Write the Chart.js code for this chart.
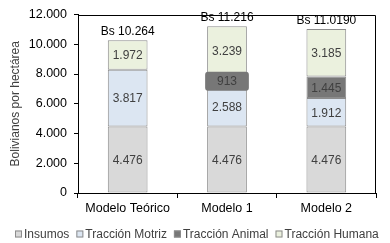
<!DOCTYPE html>
<html>
<head>
<meta charset="utf-8">
<script src="https://cdn.jsdelivr.net/npm/chart.js@4/dist/chart.umd.min.js"></script>
<style>
html,body{margin:0;padding:0;background:#fff;}
#wrap{width:390px;height:243px;position:relative;}
</style>
</head>
<body>
<div id="wrap"><canvas id="c" width="390" height="243"></canvas></div>
<script>
const categories = ["Modelo Teórico", "Modelo 1", "Modelo 2"];
const insumos = [4476, 4476, 4476];
const traccionMotriz = [3817, 2588, 1912];
const traccionAnimal = [0, 913, 1445];
const traccionHumana = [1972, 3239, 3185];
const totalLabels = ["Bs 10.264", "Bs 11.216", "Bs 11.0190"];
const yTicks = [0, 2000, 4000, 6000, 8000, 10000, 12000];

const FONT = "'Liberation Sans', Arial, sans-serif";
const TXT = '#404040';
const EDGE = '#8c8c8c';

function fmt(v){
  return String(v).replace(/\B(?=(\d{3})+(?!\d))/g, '.');
}

const labelPlugin = {
  id: 'labels',
  afterDatasetsDraw(chart){
    const ctx = chart.ctx;
    ctx.save();
    ctx.font = '12px ' + FONT;
    ctx.textAlign = 'center';
    ctx.textBaseline = 'middle';
    chart.data.datasets.forEach((ds, di) => {
      const meta = chart.getDatasetMeta(di);
      meta.data.forEach((el, i) => {
        const v = ds.data[i];
        if (!v) return;
        const cy = (el.y + el.base) / 2;
        const h = Math.abs(el.base - el.y);
        if (h < 18) {
          const w = el.width + 4, bh = 19;
          ctx.fillStyle = ds.backgroundColor;
          ctx.beginPath();
          if (ctx.roundRect) ctx.roundRect(el.x - w/2, cy - bh/2, w, bh, 3);
          else ctx.rect(el.x - w/2, cy - bh/2, w, bh);
          ctx.fill();
        }
        ctx.fillStyle = TXT;
        ctx.fillText(fmt(v), el.x, cy + 1);
      });
    });
    // totals
    const last = chart.getDatasetMeta(chart.data.datasets.length - 1);
    ctx.fillStyle = '#000';
    last.data.forEach((el, i) => {
      ctx.fillText(totalLabels[i], el.x, el.y - 8.5);
    });
    // frame
    const a = chart.chartArea;
    ctx.strokeStyle = '#000';
    ctx.lineWidth = 1;
    ctx.beginPath();
    ctx.moveTo(Math.round(a.left) + 0.5, Math.round(a.top) + 0.5);
    ctx.lineTo(Math.round(a.right) - 0.5, Math.round(a.top) + 0.5);
    ctx.lineTo(Math.round(a.right) - 0.5, Math.round(a.bottom) + 0.5);
    ctx.stroke();
    // legend
    ctx.font = '12px ' + FONT;
    ctx.textAlign = 'left';
    const box = 7, gap = 2, sep = 7;
    const items = chart.data.datasets.map(d => ({t: d.label, c: d.backgroundColor, w: ctx.measureText(d.label).width}));
    const total = items.reduce((s, it) => s + box + gap + it.w, 0) + sep * (items.length - 1);
    let x = Math.round(chart.width / 2 - total / 2 + 2);
    const ly = 234;
    items.forEach(it => {
      ctx.fillStyle = it.c;
      ctx.fillRect(x, ly - 3.5, box, box);
      ctx.strokeStyle = EDGE;
      ctx.strokeRect(x + 0.5, ly - 3.5 + 0.5, box - 1, box - 1);
      ctx.fillStyle = TXT;
      ctx.fillText(it.t, x + box + gap, ly + 0.5);
      x += box + gap + it.w + sep;
    });
    ctx.restore();
  }
};

new Chart(document.getElementById('c'), {
  type: 'bar',
  data: {
    labels: categories,
    datasets: [
      {label: 'Insumos', data: insumos, backgroundColor: '#d9d9d9'},
      {label: 'Tracción Motriz', data: traccionMotriz, backgroundColor: '#dce6f2'},
      {label: 'Tracción Animal', data: traccionAnimal, backgroundColor: '#777777'},
      {label: 'Tracción Humana', data: traccionHumana, backgroundColor: '#ebf1de'}
    ].map(d => Object.assign(d, {
      borderColor: EDGE,
      borderWidth: c => (c.raw ? 1 : 0),
      borderSkipped: false,
      barPercentage: 0.4, categoryPercentage: 1
    }))
  },
  options: {
    responsive: false,
    animation: false,
    events: [],
    layout: {padding: {left: 5, right: 14, top: 13, bottom: 23}},
    plugins: {
      tooltip: {enabled: false},
      legend: {display: false}
    },
    scales: {
      x: {
        stacked: true,
        grid: {drawOnChartArea: false, drawTicks: true, tickLength: 5, color: '#000', offset: true},
        border: {color: '#000'},
        ticks: {color: '#000', font: {family: FONT, size: 12.5}, padding: 3},
        afterFit(s){ s.height = 27; }
      },
      y: {
        stacked: true,
        min: 0, max: 12000,
        afterBuildTicks(s){ s.ticks = yTicks.map(v => ({value: v})); },
        grid: {drawOnChartArea: false, drawTicks: true, tickLength: 4, color: '#000'},
        border: {color: '#000'},
        ticks: {color: '#000', font: {family: FONT, size: 12.5}, padding: 7, callback: v => fmt(v)},
        title: {display: true, text: 'Bolivianos por hectárea', color: TXT, font: {family: FONT, size: 12}, padding: {top: 3, bottom: 2}},
        afterFit(s){ s.width = 73; }
      }
    }
  },
  plugins: [labelPlugin]
});
</script>
</body>
</html>
